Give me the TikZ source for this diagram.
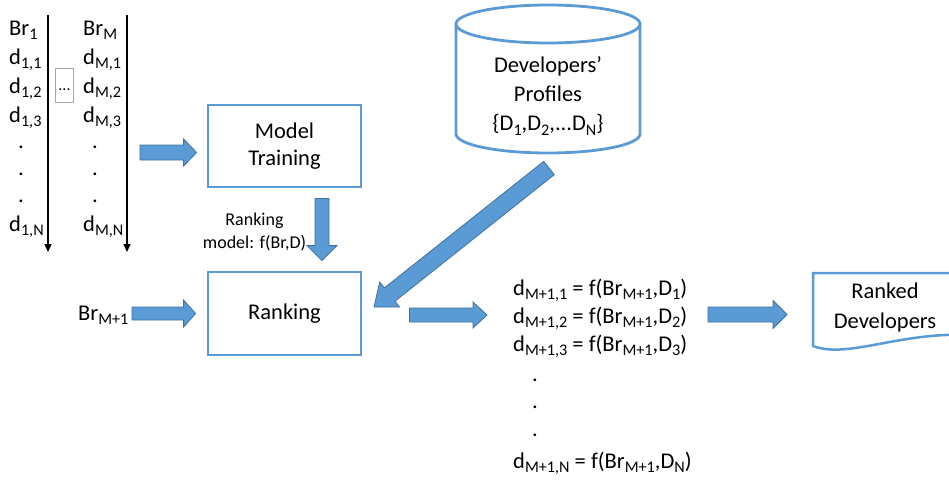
\documentclass[tikz,border=0pt]{standalone}
\usepackage{fontspec}
\usepackage{graphicx}
\setmainfont{Carlito}
\usetikzlibrary{calc,arrows.meta}
\definecolor{boxblue}{HTML}{5B9BD5}
\definecolor{arrowedge}{HTML}{41719C}
\newcommand{\sbs}[1]{\raisebox{-0.22em}{\scalebox{0.72}{#1}}}
\newcommand{\fatarrow}[5]{%
  \coordinate (faH) at ($(#2)!#5!(#1)$);
  \filldraw[fatarrowstyle] ($(#1)!#3!90:(#2)$) -- ($(faH)!#3!90:(#2)$) -- ($(faH)!#4!90:(#2)$) -- (#2) -- ($(faH)!#4!-90:(#2)$) -- ($(faH)!#3!-90:(#2)$) -- ($(#1)!#3!-90:(#2)$) -- cycle;}
\tikzset{
  bluebox/.style={draw=boxblue, line width=2.8pt, fill=white, minimum width=153pt, minimum height=82pt, font=\fontsize{22.5}{27}\selectfont, align=center, inner sep=0pt},
  fatarrowstyle/.style={fill=boxblue, draw=arrowedge, line width=0.8pt, line join=miter},
  txt/.style={inner sep=0pt, anchor=base west, font=\fontsize{22.5}{27}\selectfont},
  colarrow/.style={line width=1.4pt, -{Triangle[length=8pt,width=7pt]}},
  cylstyle/.style={draw=boxblue, line width=2.8pt, fill=white},
  docstyle/.style={draw=boxblue, line width=2.5pt, fill=white},
}
\begin{document}
\begin{tikzpicture}[x=1pt,y=-1pt]
\useasboundingbox (0,0) rectangle (949,479);
% left columns
\foreach \t/\yy [count=\i] in {{Br\sbs{1}}/35,{d\sbs{1,1}}/64,{d\sbs{1,2}}/93,{d\sbs{1,3}}/122,{\hspace*{9pt}.}/148,{\hspace*{9pt}.}/175,{\hspace*{9pt}.}/202,{d\sbs{1,N}}/231}
  \node[txt] (c1-\i) at (9,\yy) {\t};
\foreach \t/\yy [count=\i] in {{Br\sbs{M}}/35,{d\sbs{M,1}}/64,{d\sbs{M,2}}/93,{d\sbs{M,3}}/122,{\hspace*{9pt}.}/148,{\hspace*{9pt}.}/175,{\hspace*{9pt}.}/202,{d\sbs{M,N}}/231}
  \node[txt] (c2-\i) at (83,\yy) {\t};
\coordinate (c1top) at (48,15); \coordinate (c1bot) at (48,252);
\coordinate (c2top) at (127,15); \coordinate (c2bot) at (127,252);
\draw[colarrow] (c1top) -- (c1bot);
\draw[colarrow] (c2top) -- (c2bot);
\node[draw=black!35, line width=0.8pt, minimum width=18pt, minimum height=34pt, inner sep=0pt] (dotsbox) at (64,85) {};
\node[inner sep=0pt, anchor=base, font=\fontsize{16}{18}\selectfont] (ellip) at (64.5,90) {...};
% boxes
\node[bluebox] (train) at (284.5,146) {Model\\Training};
\node[bluebox, minimum height=83pt] (rank) at (284.5,313.5) {Ranking};
\node[inner sep=0pt, align=center, font=\fontsize{18}{23}\selectfont] (rmlabel) at (254.5,231.5) {Ranking\\model: f(Br,D)};
\node[txt] (brm1) at (78,320) {Br\sbs{M+1}};
% cylinder
\draw[cylstyle] (456,24) -- (456,134) arc[start angle=180, end angle=0, x radius=92, y radius=19] -- (640,24);
\draw[cylstyle] (548,24) ellipse[x radius=92, y radius=19];
\node[inner sep=0pt, align=center, font=\fontsize{22.5}{29}\selectfont] (profiles) at (548,96) {Developers’\\Profiles\\\{D\sbs{1},D\sbs{2},...D\sbs{N}\}};
% results
\foreach \t/\yy [count=\i] in {{d\sbs{M+1,1} = f(Br\sbs{M+1},D\sbs{1})}/295,{d\sbs{M+1,2} = f(Br\sbs{M+1},D\sbs{2})}/323,{d\sbs{M+1,3} = f(Br\sbs{M+1},D\sbs{3})}/351,{\hspace*{19pt}.}/381,{\hspace*{19pt}.}/408,{\hspace*{19pt}.}/436,{d\sbs{M+1,N} = f(Br\sbs{M+1},D\sbs{N})}/468}
  \node[txt] (r-\i) at (513,\yy) {\t};
% ranked developers document
\begin{scope}
\clip (0,0) rectangle (949,479);
\draw[docstyle] (813,273) -- (813,346) .. controls (850,360) and (905,328) .. (985,336) -- (985,273) -- cycle;
\end{scope}
\node[inner sep=0pt, align=center, font=\fontsize{22.5}{30}\selectfont] (ranked) at (885,307) {Ranked\\Developers};
% fat arrows
\coordinate (a1s) at (140,152.5); \coordinate (a1e) at ($(train.west)+(-10,6.5)$);
\coordinate (a2s) at ($(train.south)+(37.5,10)$); \coordinate (a2e) at ($(rank.north)+(37.5,-10)$);
\coordinate (a3s) at (132,313.5); \coordinate (a3e) at ($(rank.west)+(-11,0)$);
\coordinate (dtail) at (549,168); \coordinate (dtip) at (374,307);
\coordinate (a5s) at ($(rank.east)+(47,1.5)$); \coordinate (a5e) at (487,315);
\coordinate (a6s) at (708,314.5); \coordinate (a6e) at (787,314.5);
\fatarrow{a1s}{a1e}{7.5pt}{13.5pt}{13pt}
\fatarrow{a2s}{a2e}{7pt}{15pt}{15pt}
\fatarrow{a3s}{a3e}{6.5pt}{13.5pt}{12pt}
\fatarrow{dtail}{dtip}{8.5pt}{16pt}{20pt}
\fatarrow{a5s}{a5e}{7pt}{13pt}{14pt}
\fatarrow{a6s}{a6e}{7.5pt}{14pt}{14pt}
\end{tikzpicture}
\end{document}
